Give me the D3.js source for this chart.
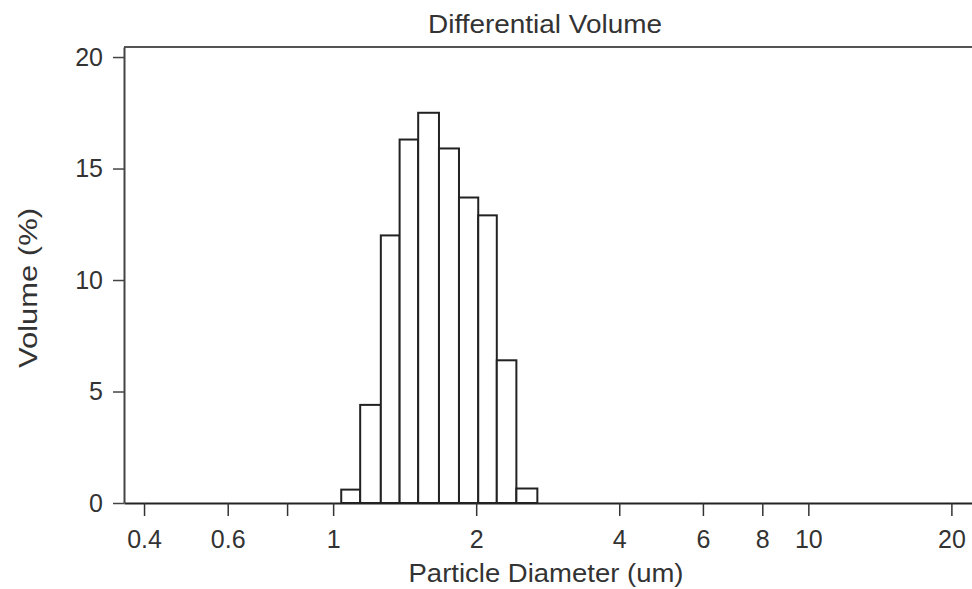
<!DOCTYPE html>
<html>
<head>
<meta charset="utf-8">
<script src="https://cdn.jsdelivr.net/npm/d3@7"></script>
<style>
  body { margin: 0; background: #fff; }
  text { font-family: "Liberation Sans", Arial, sans-serif; fill: #333; }
</style>
</head>
<body>
<svg id="chart" width="972" height="589"></svg>
<script>
/* differential volume histogram, log x axis */
var binEdges = [1.04, 1.14, 1.26, 1.38, 1.51, 1.67, 1.84, 2.02, 2.21, 2.43, 2.69];
var volumes = [0.6, 4.4, 12.0, 16.3, 17.5, 15.9, 13.7, 12.9, 6.4, 0.65];
var xTicks = [0.4, 0.6, 0.8, 1, 2, 4, 6, 8, 10, 20];
var xTickLabels = ["0.4", "0.6", "", "1", "2", "4", "6", "8", "10", "20"];
var yTicks = [0, 5, 10, 15, 20];

var svg = d3.select("#chart");
var pLeft = 124, pRight = 972, pTop = 47, pBottom = 503;

var x = d3.scaleLog().domain([0.363, 22.1]).range([pLeft, pRight]);
var y = d3.scaleLinear().domain([0, 20.45]).range([pBottom, pTop]);

// frame top line
svg.append("line")
    .attr("x1", pLeft).attr("x2", pRight)
    .attr("y1", pTop).attr("y2", pTop)
    .attr("stroke", "#555").attr("stroke-width", 2);

// bars
var bins = volumes.map(function(v, i){
    return {x0: binEdges[i], x1: binEdges[i+1], v: v};
});
svg.append("g").selectAll("rect")
    .data(bins)
    .enter().append("rect")
    .attr("x", function(d){ return x(d.x0); })
    .attr("width", function(d){ return x(d.x1) - x(d.x0); })
    .attr("y", function(d){ return y(d.v); })
    .attr("height", function(d){ return y(0) - y(d.v); })
    .attr("fill", "#fff")
    .attr("stroke", "#222")
    .attr("stroke-width", 2);

// x axis
var xAxis = d3.axisBottom(x)
    .tickValues(xTicks)
    .tickSize(13)
    .tickPadding(14)
    .tickSizeOuter(0)
    .tickFormat(function(d, i){ return xTickLabels[i]; });
var gx = svg.append("g")
    .attr("transform", "translate(0," + pBottom + ")")
    .call(xAxis);
gx.select(".domain").attr("stroke", "#222").attr("stroke-width", 2);
gx.selectAll(".tick line").attr("stroke", "#333").attr("stroke-width", 1.5);
gx.selectAll(".tick text").style("font-size", "25px").attr("fill", "#333");

// y axis
var yAxis = d3.axisLeft(y)
    .tickValues(yTicks)
    .tickSize(11)
    .tickPadding(10)
    .tickSizeOuter(0);
var gy = svg.append("g")
    .attr("transform", "translate(" + pLeft + ",0)")
    .call(yAxis);
gy.select(".domain").attr("stroke", "#444").attr("stroke-width", 2);
gy.selectAll(".tick line").attr("stroke", "#444").attr("stroke-width", 1.5);
gy.selectAll(".tick text").style("font-size", "25px").attr("fill", "#333");

// title and labels
svg.append("text")
    .attr("x", 545).attr("y", 33)
    .attr("text-anchor", "middle")
    .attr("textLength", 234)
    .attr("lengthAdjust", "spacingAndGlyphs")
    .style("font-size", "25px")
    .text("Differential Volume");

svg.append("text")
    .attr("x", 546).attr("y", 582)
    .attr("text-anchor", "middle")
    .attr("textLength", 275)
    .attr("lengthAdjust", "spacingAndGlyphs")
    .style("font-size", "25px")
    .text("Particle Diameter (um)");

svg.append("text")
    .attr("transform", "translate(37,288) rotate(-90)")
    .attr("text-anchor", "middle")
    .attr("textLength", 160)
    .attr("lengthAdjust", "spacingAndGlyphs")
    .style("font-size", "25px")
    .text("Volume (%)");
</script>
</body>
</html>
